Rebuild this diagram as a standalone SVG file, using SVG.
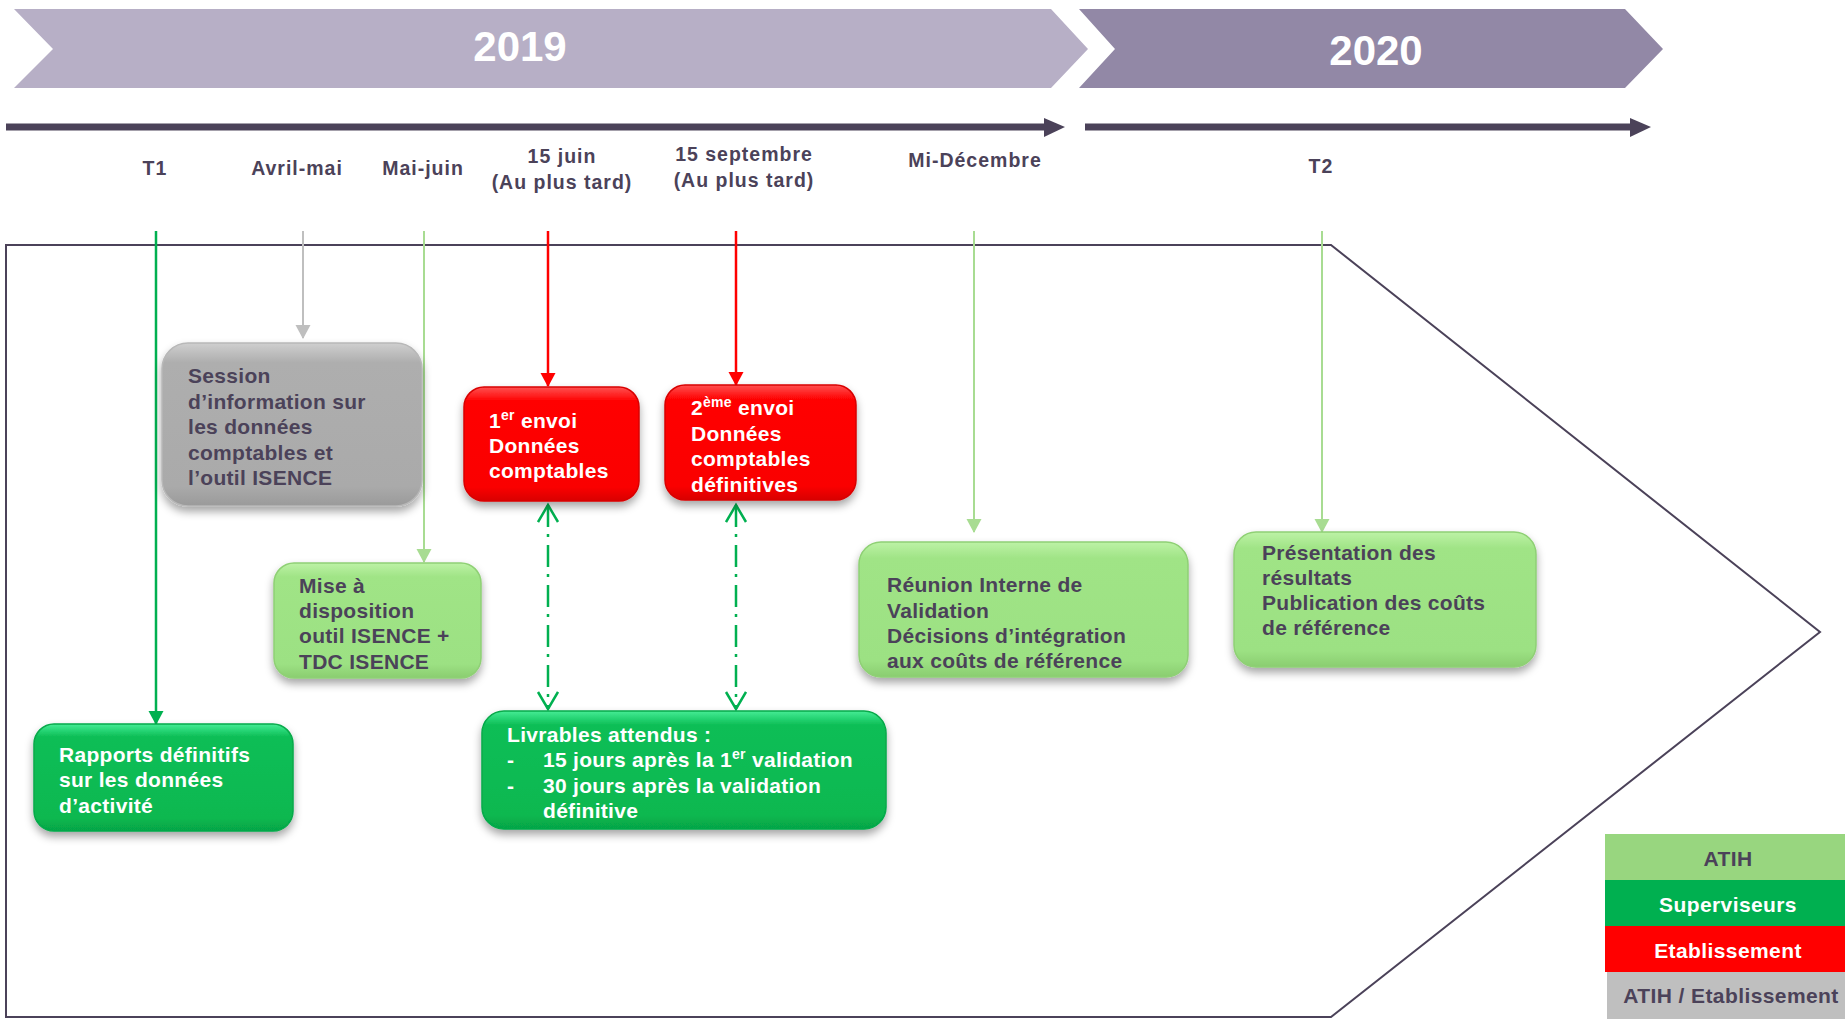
<svg xmlns="http://www.w3.org/2000/svg" width="1845" height="1019" viewBox="0 0 1845 1019">
<style>
text{font-family:"Liberation Sans",Arial,sans-serif;font-weight:bold}
.lbl{font-size:19.5px;fill:#4B4259;letter-spacing:1px;text-anchor:middle}
.yr{font-size:42px;fill:#fff;text-anchor:middle}
.bt{font-size:21px;letter-spacing:0.3px}
.dk{fill:#4B4259}
.wh{fill:#fff}
.leg{font-size:21px;text-anchor:middle;letter-spacing:0.4px}
.box{filter:url(#sh);stroke-width:1.5}
</style>
<defs>
<filter id="sh" x="-10%" y="-10%" width="125%" height="135%">
<feDropShadow dx="0" dy="5" stdDeviation="4" flood-color="#000" flood-opacity="0.35"/>
</filter>
<linearGradient id="gGray" x1="0" y1="0" x2="0" y2="1">
<stop offset="0" stop-color="#CFCFCF"/><stop offset="0.12" stop-color="#AEAEAE"/><stop offset="0.88" stop-color="#AAAAAA"/><stop offset="1" stop-color="#9A9A9A"/>
</linearGradient>
<linearGradient id="gRed" x1="0" y1="0" x2="0" y2="1">
<stop offset="0" stop-color="#FF5050"/><stop offset="0.12" stop-color="#FF0505"/><stop offset="0.88" stop-color="#FA0000"/><stop offset="1" stop-color="#D80000"/>
</linearGradient>
<linearGradient id="gGreen" x1="0" y1="0" x2="0" y2="1">
<stop offset="0" stop-color="#45EC95"/><stop offset="0.12" stop-color="#0CBE56"/><stop offset="0.88" stop-color="#08B850"/><stop offset="1" stop-color="#06A446"/>
</linearGradient>
<linearGradient id="gLight" x1="0" y1="0" x2="0" y2="1">
<stop offset="0" stop-color="#BDF2A6"/><stop offset="0.12" stop-color="#A0E486"/><stop offset="0.88" stop-color="#9CE183"/><stop offset="1" stop-color="#8ACD70"/>
</linearGradient>
<marker id="aGreen" markerUnits="userSpaceOnUse" markerWidth="16" markerHeight="16" refX="13" refY="7.5" orient="auto"><path d="M0,0 L14,7.5 L0,15 z" fill="#00B050"/></marker>
<marker id="aGray" markerUnits="userSpaceOnUse" markerWidth="16" markerHeight="16" refX="13" refY="7.5" orient="auto"><path d="M0,0 L14,7.5 L0,15 z" fill="#BFBFBF"/></marker>
<marker id="aLight" markerUnits="userSpaceOnUse" markerWidth="16" markerHeight="16" refX="13" refY="7.5" orient="auto"><path d="M0,0 L14,7.5 L0,15 z" fill="#A8DC92"/></marker>
<marker id="aRed" markerUnits="userSpaceOnUse" markerWidth="16" markerHeight="16" refX="13" refY="7.5" orient="auto"><path d="M0,0 L14,7.5 L0,15 z" fill="#FF0000"/></marker>
<marker id="aOpen" markerUnits="userSpaceOnUse" markerWidth="22" markerHeight="24" refX="18" refY="11" orient="auto-start-reverse"><path d="M1,1 L18,11 L1,21" fill="none" stroke="#00B050" stroke-width="2.5" stroke-dasharray="none"/></marker>
</defs>
<rect width="1845" height="1019" fill="#fff"/>

<g id="banners">
<polygon points="14,9 1051,9 1088,49 1051,88 14,88 53,49" fill="#B7AFC6"/>
<polygon points="1079,9 1625,9 1663,49 1625,88 1079,88 1115,49" fill="#9288A6"/>
<text class="yr" x="520" y="61">2019</text>
<text class="yr" x="1376" y="65">2020</text>
</g>

<g id="timeline">
<line x1="6" y1="127" x2="1047" y2="127" stroke="#4B4259" stroke-width="7"/>
<polygon points="1044,118 1065,127 1044,137" fill="#4B4259"/>
<line x1="1085" y1="127" x2="1633" y2="127" stroke="#4B4259" stroke-width="7"/>
<polygon points="1630,118 1651,127 1630,137" fill="#4B4259"/>
</g>

<g id="dates">
<text class="lbl" x="155" y="175">T1</text>
<text class="lbl" x="297" y="175">Avril-mai</text>
<text class="lbl" x="423" y="175">Mai-juin</text>
<text class="lbl" x="562" y="163">15 juin</text>
<text class="lbl" x="562" y="189">(Au plus tard)</text>
<text class="lbl" x="744" y="161">15 septembre</text>
<text class="lbl" x="744" y="187">(Au plus tard)</text>
<text class="lbl" x="975" y="167">Mi-Décembre</text>
<text class="lbl" x="1321" y="173">T2</text>
</g>

<g id="frame">
<polygon points="6,245 1331,245 1820,632 1331,1017 6,1017" fill="none" stroke="#4B4259" stroke-width="2"/>
</g>

<g id="connectors">
<line x1="156" y1="231" x2="156" y2="724" stroke="#00B050" stroke-width="2.5" marker-end="url(#aGreen)"/>
<line x1="303" y1="231" x2="303" y2="338" stroke="#BFBFBF" stroke-width="2" marker-end="url(#aGray)"/>
<line x1="424" y1="231" x2="424" y2="562" stroke="#A8DC92" stroke-width="2" marker-end="url(#aLight)"/>
<line x1="548" y1="231" x2="548" y2="386" stroke="#FF0000" stroke-width="2.5" marker-end="url(#aRed)"/>
<line x1="736" y1="231" x2="736" y2="385" stroke="#FF0000" stroke-width="2.5" marker-end="url(#aRed)"/>
<line x1="974" y1="231" x2="974" y2="532" stroke="#A8DC92" stroke-width="2" marker-end="url(#aLight)"/>
<line x1="1322" y1="231" x2="1322" y2="532" stroke="#A8DC92" stroke-width="2" marker-end="url(#aLight)"/>
<line x1="548" y1="505" x2="548" y2="709" stroke="#00B050" stroke-width="2.5" stroke-dasharray="22 7 3 8" marker-start="url(#aOpen)" marker-end="url(#aOpen)"/>
<line x1="736" y1="505" x2="736" y2="709" stroke="#00B050" stroke-width="2.5" stroke-dasharray="22 7 3 8" marker-start="url(#aOpen)" marker-end="url(#aOpen)"/>
</g>

<g id="session">
<rect class="box" x="162" y="343" width="260" height="163" rx="26" fill="url(#gGray)" stroke="#B8B8B8"/>
<text class="bt dk" x="188"><tspan x="188" y="383">Session</tspan><tspan x="188" y="409">d’information sur</tspan><tspan x="188" y="434">les données</tspan><tspan x="188" y="460">comptables et</tspan><tspan x="188" y="485">l’outil ISENCE</tspan></text>
</g>

<g id="envoi1">
<rect class="box" x="464" y="387" width="175" height="114" rx="20" fill="url(#gRed)" stroke="#D80000"/>
<text class="bt wh"><tspan x="489" y="428">1</tspan><tspan font-size="14" dy="-8">er</tspan><tspan dy="8"> envoi</tspan><tspan x="489" y="453">Données</tspan><tspan x="489" y="478">comptables</tspan></text>
</g>

<g id="envoi2">
<rect class="box" x="665" y="385" width="191" height="115" rx="20" fill="url(#gRed)" stroke="#D80000"/>
<text class="bt wh"><tspan x="691" y="415">2</tspan><tspan font-size="14" dy="-8">ème</tspan><tspan dy="8"> envoi</tspan><tspan x="691" y="441">Données</tspan><tspan x="691" y="466">comptables</tspan><tspan x="691" y="492">définitives</tspan></text>
</g>

<g id="mise">
<rect class="box" x="274" y="563" width="207" height="115" rx="20" fill="url(#gLight)" stroke="#8FD075"/>
<text class="bt dk"><tspan x="299" y="593">Mise à</tspan><tspan x="299" y="618">disposition</tspan><tspan x="299" y="643">outil ISENCE +</tspan><tspan x="299" y="669">TDC ISENCE</tspan></text>
</g>

<g id="rapports">
<rect class="box" x="34" y="724" width="259" height="107" rx="20" fill="url(#gGreen)" stroke="#07A94A"/>
<text class="bt wh"><tspan x="59" y="762">Rapports définitifs</tspan><tspan x="59" y="787">sur les  données</tspan><tspan x="59" y="813">d’activité</tspan></text>
</g>

<g id="livrables">
<rect class="box" x="482" y="711" width="404" height="118" rx="22" fill="url(#gGreen)" stroke="#07A94A"/>
<text class="bt wh"><tspan x="507" y="742">Livrables attendus :</tspan><tspan x="507" y="767">-</tspan><tspan x="543" y="767">15 jours après la 1</tspan><tspan font-size="14" dy="-8">er</tspan><tspan dy="8"> validation</tspan><tspan x="507" y="793">-</tspan><tspan x="543" y="793">30 jours après la validation</tspan><tspan x="543" y="818">définitive</tspan></text>
</g>

<g id="reunion">
<rect class="box" x="859" y="542" width="329" height="135" rx="22" fill="url(#gLight)" stroke="#8FD075"/>
<text class="bt dk"><tspan x="887" y="592">Réunion Interne de</tspan><tspan x="887" y="618">Validation</tspan><tspan x="887" y="643">Décisions d’intégration</tspan><tspan x="887" y="668">aux coûts de référence</tspan></text>
</g>

<g id="presentation">
<rect class="box" x="1234" y="532" width="302" height="135" rx="22" fill="url(#gLight)" stroke="#8FD075"/>
<text class="bt dk"><tspan x="1262" y="560">Présentation des</tspan><tspan x="1262" y="585">résultats</tspan><tspan x="1262" y="610">Publication des coûts</tspan><tspan x="1262" y="635">de référence</tspan></text>
</g>

<g id="legend">
<rect x="1605" y="834" width="240" height="46" fill="#98D67F"/>
<rect x="1605" y="880" width="240" height="46" fill="#00B050"/>
<rect x="1605" y="926" width="240" height="46" fill="#FF0000"/>
<rect x="1607" y="972" width="238" height="47" fill="#BFBFBF"/>
<text class="leg dk" x="1728" y="866">ATIH</text>
<text class="leg wh" x="1728" y="912">Superviseurs</text>
<text class="leg wh" x="1728" y="958">Etablissement</text>
<text class="leg dk" x="1731" y="1003">ATIH / Etablissement</text>
</g>
</svg>
